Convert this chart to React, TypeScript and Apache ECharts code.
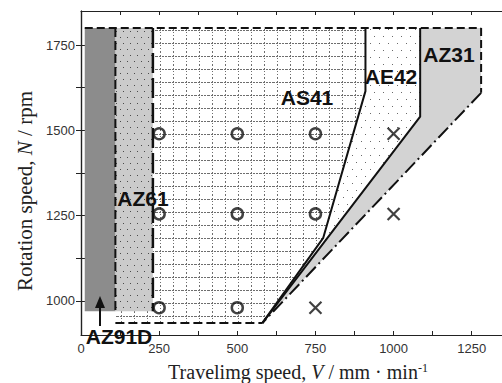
import React, { useEffect, useRef } from 'react';
import * as echarts from 'echarts';

// ---- axis ticks ----
const xTickLabels = [0, 250, 500, 750, 1000, 1250];
const xTicks = [0, 125, 250, 375, 500, 625, 750, 875, 1000, 1125, 1250];
const yTickLabels = [1000, 1250, 1500, 1750];
const yTicks = [1000, 1125, 1250, 1375, 1500, 1625, 1750];

// ---- weldable regions (V, N) ----
const regionAZ91D = [[12, 970], [110, 970], [110, 1800], [12, 1800]];
const regionAZ61 = [[110, 970], [230, 970], [230, 1800], [110, 1800]];
const regionAS41 = [[110, 935], [580, 935], [775, 1185], [910, 1615], [910, 1800], [110, 1800]];
const regionAE42 = [[580, 935], [1085, 1540], [1085, 1800], [910, 1800], [910, 1615], [775, 1185]];
const regionAZ31 = [[580, 935], [1280, 1610], [1280, 1800], [1085, 1800], [1085, 1540]];

// ---- boundary lines ----
const lineTop = [[12, 1800], [1280, 1800]];
const lineAZ91D = [[110, 1800], [110, 965]];
const lineAZ61 = [[230, 1800], [230, 970]];
const lineBottom = [[110, 935], [580, 935]];
const lineAS41 = [[910, 1800], [910, 1615], [775, 1185], [580, 935]];
const lineAE42 = [[1085, 1800], [1085, 1540], [580, 935]];
const lineAZ31Right = [[1280, 1800], [1280, 1610]];
const lineAZ31Slope = [[1280, 1610], [580, 935]];

// ---- experimental points ----
const circles = [[250, 1490], [500, 1490], [750, 1490], [250, 1255], [500, 1255], [750, 1255], [250, 980], [500, 980]];
const crosses = [[1000, 1490], [1000, 1255], [750, 980]];

function makePattern(w: number, h: number, bg: string, draw: (ctx: CanvasRenderingContext2D) => void) {
  const c = document.createElement('canvas');
  c.width = w;
  c.height = h;
  const ctx = c.getContext('2d')!;
  ctx.fillStyle = bg;
  ctx.fillRect(0, 0, w, h);
  draw(ctx);
  return { image: c.toDataURL(), repeat: 'repeat', imageWidth: w, imageHeight: h } as any;
}

const SANS = "'Liberation Sans', Arial, Helvetica, sans-serif";
const SERIF = "'Liberation Serif', 'Times New Roman', serif";

export default function App() {
  const ref = useRef<HTMLDivElement>(null);
  useEffect(() => {
    if (!ref.current) return;
    const chart = echarts.init(ref.current, null, { renderer: 'svg' });

    const gridPat = makePattern(13, 13, '#ffffff', (ctx) => {
      ctx.fillStyle = '#6e6e6e';
      for (let x = 0; x < 13; x += 3) ctx.fillRect(x, 4, 2, 1);
      for (let y = 0; y < 13; y += 3) ctx.fillRect(4, y, 1, 1);
    });
    const az61Pat = makePattern(7, 12, '#cbcbcb', (ctx) => {
      ctx.fillStyle = '#4a4a4a';
      ctx.fillRect(1, 1, 1, 1);
      ctx.fillRect(4, 7, 1, 1);
    });
    const ae42Pat = makePattern(9, 14, '#ffffff', (ctx) => {
      ctx.fillStyle = '#6a6a6a';
      ctx.fillRect(1, 1, 1, 1);
      ctx.fillRect(5, 8, 1, 1);
    });

    const poly = (pts: number[][], fill: any, z: number) => ({
      type: 'custom',
      coordinateSystem: 'cartesian2d',
      data: [pts[0]],
      silent: true,
      z,
      renderItem: (_p: any, api: any) => ({
        type: 'polygon',
        shape: { points: pts.map((p) => api.coord(p)) },
        style: { fill, stroke: 'none' },
      }),
    });

    const line = (pts: number[][], type: any, width: number) => ({
      type: 'line',
      data: pts,
      symbol: 'none',
      silent: true,
      z: 5,
      lineStyle: { color: '#111', width, type },
    });

    const tickLabelStyle = { color: '#333', fontFamily: SANS, fontSize: 13, formatter: (v: number) => String(v) };

    chart.setOption({
      animation: false,
      grid: { left: 81, top: 11, width: 422, height: 324, outerBoundsMode: 'none' },
      xAxis: [
        {
          type: 'value', min: 0, max: 1350, position: 'bottom',
          axisLine: { show: true, lineStyle: { color: '#222', width: 1.2 } },
          axisTick: { show: true, inside: true, length: 4, customValues: xTicks, lineStyle: { color: '#222', width: 1 } },
          axisLabel: { show: true, margin: 7, customValues: xTickLabels, ...tickLabelStyle },
          splitLine: { show: false },
        },
        {
          type: 'value', min: 0, max: 1350, position: 'top',
          axisLine: { show: true, lineStyle: { color: '#222', width: 1.2 } },
          axisTick: { show: true, inside: true, length: 4, customValues: xTicks, lineStyle: { color: '#222', width: 1 } },
          axisLabel: { show: false },
          splitLine: { show: false },
        },
      ],
      yAxis: [
        {
          type: 'value', min: 900, max: 1850, position: 'left',
          axisLine: { show: true, lineStyle: { color: '#222', width: 1.2 } },
          axisTick: { show: true, inside: true, length: 4, customValues: yTicks, lineStyle: { color: '#222', width: 1 } },
          axisLabel: { show: true, margin: 6, customValues: yTickLabels, ...tickLabelStyle },
          splitLine: { show: false },
        },
        {
          type: 'value', min: 900, max: 1850, position: 'right',
          axisLine: { show: true, lineStyle: { color: '#222', width: 1.2 } },
          axisTick: { show: true, inside: true, length: 5, customValues: yTicks, lineStyle: { color: '#222', width: 1 } },
          axisLabel: { show: false },
          splitLine: { show: false },
        },
      ],
      series: [
        poly(regionAS41, gridPat, 1),
        poly(regionAE42, ae42Pat, 1),
        poly(regionAZ31, '#d3d3d3', 1),
        poly(regionAZ61, az61Pat, 2),
        poly(regionAZ91D, '#8c8c8c', 2),
        line(lineTop, [8, 4], 2),
        line(lineAZ91D, [9, 4], 2),
        line(lineAZ61, [20, 5], 2.5),
        line(lineBottom, [9, 4], 2),
        line(lineAS41, 'solid', 2),
        line(lineAE42, 'solid', 2),
        line(lineAZ31Right, [8, 4], 2),
        line(lineAZ31Slope, [14, 4, 2, 4], 2),
        {
          type: 'scatter', data: circles, symbol: 'circle', symbolSize: 11, z: 6, silent: true,
          itemStyle: { color: 'transparent', borderColor: '#111', borderWidth: 2.5 },
        },
        {
          type: 'scatter', data: crosses, symbol: 'path://M0,0L10,10M10,0L0,10', symbolSize: 12, z: 6, silent: true,
          itemStyle: { color: 'none', borderColor: '#111', borderWidth: 2.2 },
        },
      ],
      graphic: [
        { type: 'text', x: 307, y: 97, z: 20, style: { text: 'AS41', font: `bold 21px ${SANS}`, fill: '#111', align: 'center', verticalAlign: 'middle' } },
        { type: 'text', x: 391, y: 76, z: 20, style: { text: 'AE42', font: `bold 21px ${SANS}`, fill: '#111', align: 'center', verticalAlign: 'middle' } },
        { type: 'text', x: 449, y: 54, z: 20, style: { text: 'AZ31', font: `bold 21px ${SANS}`, fill: '#111', align: 'center', verticalAlign: 'middle' } },
        { type: 'text', x: 143, y: 198, z: 20, style: { text: 'AZ61', font: `bold 21px ${SANS}`, fill: '#111', align: 'center', verticalAlign: 'middle' } },
        { type: 'text', x: 119, y: 336, z: 20, style: { text: 'AZ91D', font: `bold 21px ${SANS}`, fill: '#111', align: 'center', verticalAlign: 'middle' } },
        { type: 'line', z: 20, shape: { x1: 100, y1: 326, x2: 100, y2: 304 }, style: { stroke: '#111', lineWidth: 2 } },
        { type: 'polygon', z: 20, shape: { points: [[100, 296], [95, 308], [105, 308]] }, style: { fill: '#111' } },
        {
          type: 'text', x: 25, y: 191, rotation: Math.PI / 2, z: 20,
          style: {
            text: '{a|Rotation speed, }{i|N}{a| / rpm}',
            align: 'center', verticalAlign: 'middle',
            rich: {
              a: { fontFamily: SERIF, fontSize: 21, fill: '#222' },
              i: { fontFamily: SERIF, fontSize: 21, fontStyle: 'italic', fill: '#222' },
            },
          },
        },
        {
          type: 'text', x: 298, y: 372, z: 20,
          style: {
            text: '{a|Travelimg speed, }{i|V}{a| / mm · min}{s|-1}',
            align: 'center', verticalAlign: 'middle',
            rich: {
              a: { fontFamily: SERIF, fontSize: 20, lineHeight: 20, fill: '#222' },
              i: { fontFamily: SERIF, fontSize: 20, lineHeight: 20, fontStyle: 'italic', fill: '#222' },
              s: { fontFamily: SERIF, fontSize: 12, lineHeight: 12, fill: '#222', verticalAlign: 'top' },
            },
          },
        },
      ],
    });
    return () => chart.dispose();
  }, []);
  return <div ref={ref} style={{ width: 502, height: 383, position: 'absolute', left: 0, top: 0 }} />;
}
